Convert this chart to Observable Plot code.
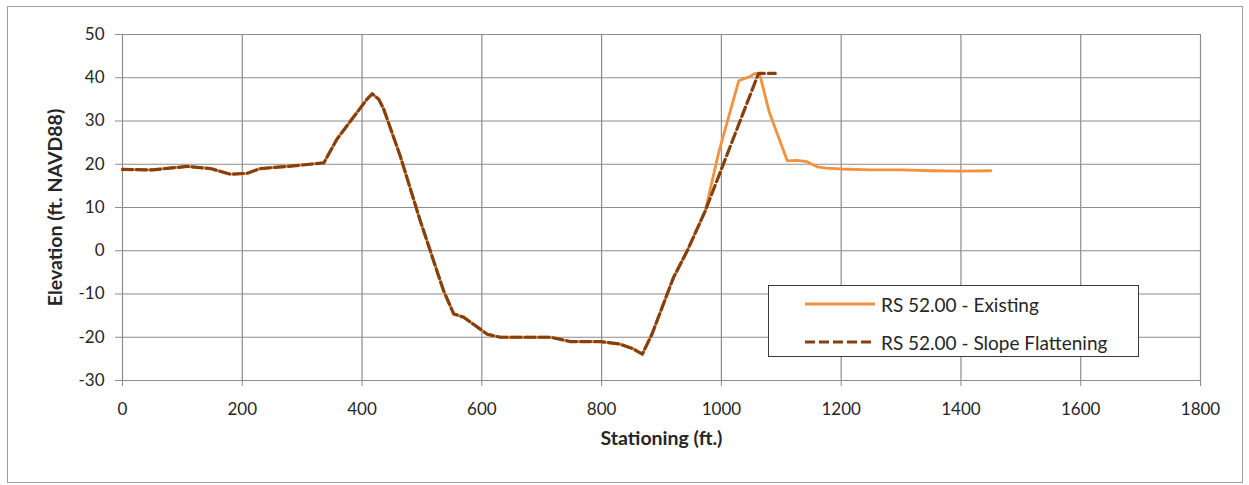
<!DOCTYPE html>
<html><head><meta charset="utf-8">
<script src="https://cdn.jsdelivr.net/npm/d3@7"></script>
<script src="https://cdn.jsdelivr.net/npm/@observablehq/plot@0.6"></script>
<style>
body{margin:0;background:#fff;}
#wrap{position:relative;width:1249px;height:485px;overflow:hidden;background:#fff;}
#frame{position:absolute;left:7px;top:6px;width:1236px;height:477px;border:1px solid #a0a0a0;box-sizing:border-box;}
#chart{position:absolute;left:0;top:0;}
#legend{position:absolute;left:768px;top:285px;width:371px;height:72px;border:1px solid #3a3a3a;box-sizing:border-box;background:#fff;font-family:Lato,sans-serif;font-size:19px;color:#262626;}
.row{position:absolute;left:36px;height:24px;display:flex;align-items:center;}
.row svg{margin-right:6px;}
</style></head>
<body><div id="wrap"><div id="frame"></div><div id="chart"></div><div id="legend"></div></div>
<script>
// ---- data ----
const seriesNames = ["RS 52.00 - Existing", "RS 52.00 - Slope Flattening"];
const stationExisting = [0, 50, 108, 147, 180, 208, 230, 275, 336, 358, 408, 417, 428, 436, 464, 497, 536, 553, 570, 609, 631, 715, 748, 798, 831, 853, 868, 884, 920, 943, 973, 996, 1029, 1048, 1056, 1064, 1080, 1110, 1126, 1143, 1160, 1175, 1200, 1250, 1300, 1350, 1400, 1450];
const elevExisting    = [18.8, 18.7, 19.5, 19.0, 17.7, 17.9, 19.0, 19.5, 20.3, 25.8, 35.0, 36.3, 35.0, 32.8, 21.8, 7.0, -9.2, -14.6, -15.4, -19.3, -20.0, -20.0, -21.0, -21.0, -21.6, -22.7, -23.9, -19.3, -6.2, 0.0, 9.2, 23.0, 39.3, 40.3, 41.0, 40.8, 32.0, 20.8, 20.9, 20.6, 19.4, 19.1, 18.9, 18.7, 18.7, 18.5, 18.4, 18.5];
const stationFlatten  = [0, 50, 108, 147, 180, 208, 230, 275, 336, 358, 408, 417, 428, 436, 464, 497, 536, 553, 570, 609, 631, 715, 748, 798, 831, 853, 868, 884, 920, 943, 973, 1062, 1090];
const elevFlatten     = [18.8, 18.7, 19.5, 19.0, 17.7, 17.9, 19.0, 19.5, 20.3, 25.8, 35.0, 36.3, 35.0, 32.8, 21.8, 7.0, -9.2, -14.6, -15.4, -19.3, -20.0, -20.0, -21.0, -21.0, -21.6, -22.7, -23.9, -19.3, -6.2, 0.0, 9.2, 41.0, 41.0];
const xTicks = [0, 200, 400, 600, 800, 1000, 1200, 1400, 1600, 1800];
const yTicks = [-30, -20, -10, 0, 10, 20, 30, 40, 50];
const xLabel = "Stationing (ft.)";
const yLabel = "Elevation (ft. NAVD88)";

const colExisting = "#F4913D";
const colFlatten = "#86400F";
const gridCol = "#8c8c8c";

const existing = stationExisting.map((x, i) => ({x, y: elevExisting[i]}));
const flatten = stationFlatten.map((x, i) => ({x, y: elevFlatten[i]}));
const fmt = d => String(d);

const chart = Plot.plot({
  width: 1249, height: 485,
  marginLeft: 122, marginRight: 49, marginTop: 34, marginBottom: 105,
  x: {domain: [0, 1800]},
  y: {domain: [-30, 50]},
  style: {fontFamily: "Lato, sans-serif", fontSize: "17px", color: "#262626", background: "transparent", overflow: "visible"},
  marks: [
    Plot.gridX(xTicks, {stroke: gridCol, strokeOpacity: 1, strokeWidth: 1.2}),
    Plot.gridY(yTicks, {stroke: gridCol, strokeOpacity: 1, strokeWidth: 1.2}),
    Plot.axisX(xTicks, {tickSize: 6, tickPadding: 16, stroke: gridCol, label: null, fontSize: 17, tickFormat: fmt}),
    Plot.axisY(yTicks, {tickSize: 7, tickPadding: 11, stroke: gridCol, label: null, fontSize: 17, tickFormat: fmt}),
    Plot.line(existing, {x: "x", y: "y", stroke: colExisting, strokeWidth: 2.8}),
    Plot.line(flatten, {x: "x", y: "y", stroke: colFlatten, strokeWidth: 3.2, strokeDasharray: "10,4"}),
    Plot.text([xLabel], {frameAnchor: "bottom", textAnchor: "middle", dy: 64, fontWeight: "bold", fontSize: 19.5, fill: "#262626"}),
    Plot.text([yLabel], {frameAnchor: "left", textAnchor: "middle", dx: -67, rotate: -90, fontWeight: "bold", fontSize: 19.5, fill: "#262626"})
  ]
});
document.getElementById("chart").appendChild(chart);

// legend
const legend = document.getElementById("legend");
const styles = [
  {stroke: colExisting, w: 2.8, dash: null, top: 6},
  {stroke: colFlatten, w: 3.2, dash: "10,4", top: 44}
];
seriesNames.forEach((name, i) => {
  const s = styles[i];
  const row = document.createElement("div");
  row.className = "row";
  row.style.top = s.top + "px";
  const ns = "http://www.w3.org/2000/svg";
  const svg = document.createElementNS(ns, "svg");
  svg.setAttribute("width", 70); svg.setAttribute("height", 10);
  const ln = document.createElementNS(ns, "line");
  ln.setAttribute("x1", 0); ln.setAttribute("x2", 70); ln.setAttribute("y1", 5); ln.setAttribute("y2", 5);
  ln.setAttribute("stroke", s.stroke); ln.setAttribute("stroke-width", s.w);
  if (s.dash) ln.setAttribute("stroke-dasharray", s.dash);
  svg.appendChild(ln);
  row.appendChild(svg);
  const t = document.createElement("span");
  t.textContent = name;
  row.appendChild(t);
  legend.appendChild(row);
});
</script>
</body></html>
